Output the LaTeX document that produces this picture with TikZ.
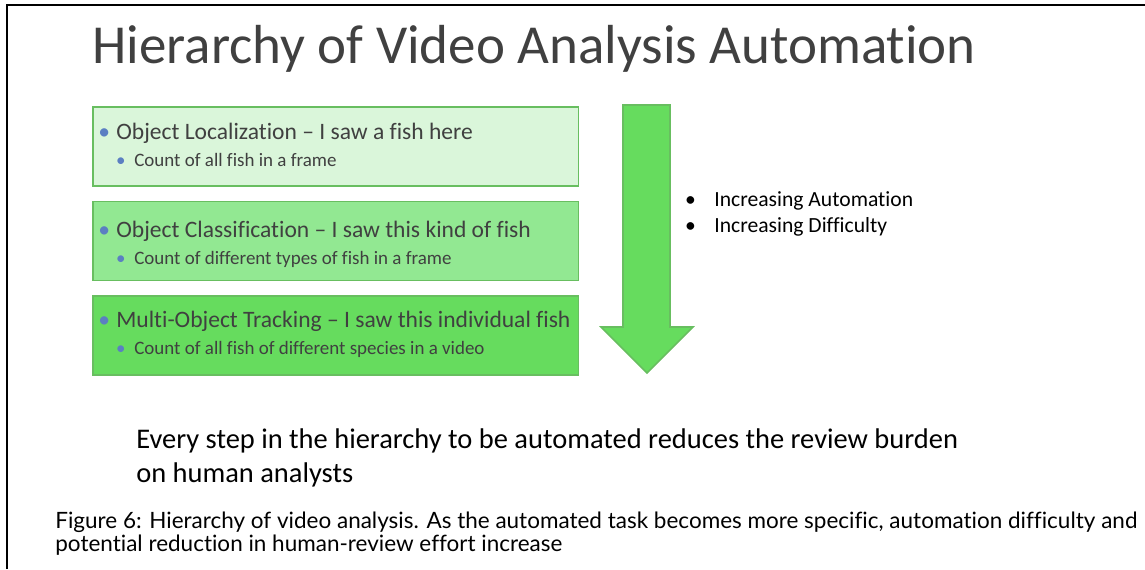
\documentclass[tikz,border=0pt]{standalone}
\usepackage{fontspec}
\setmainfont{Carlito}[Ligatures={TeX,NoCommon}]
\newfontfamily\capfont{Lato}[Ligatures={TeX,NoCommon}]
\usetikzlibrary{positioning}
\definecolor{slidegray}{RGB}{64,64,64}
\definecolor{dotblue}{RGB}{91,127,194}
\definecolor{levelline}{RGB}{104,190,96}
\definecolor{levelone}{RGB}{218,246,218}
\definecolor{leveltwo}{RGB}{146,232,146}
\definecolor{levelthree}{RGB}{102,220,94}

\begin{document}
\begin{tikzpicture}[x=0.02cm,y=-0.02cm]
  % one unit is one pixel of the slide, y grows downwards
  \tikzset{node distance=0.28cm, % gap between the three levels
    level/.style={draw=levelline,line width=0.9pt,minimum width=9.72cm,minimum height=1.58cm,inner sep=0,anchor=north west},
    main/.style={anchor=base west,inner sep=0,text=slidegray,font=\fontsize{13.4}{16}\selectfont},
    sub/.style={anchor=base west,inner sep=0,text=slidegray,font=\fontsize{10.8}{13}\selectfont},
    side/.style={anchor=base west,inner sep=0,font=\fontsize{12.3}{14}\selectfont},
  }
  \useasboundingbox (0,0) rectangle (1145,569);
  % frame of the slide
  \draw[line width=1.7pt] (7,569) -- (7,5) -- (1145,5);
  \node[anchor=base west,inner sep=0,text=slidegray,font=\fontsize{31.3}{36}\selectfont] (title) at (92,63) {Hierarchy of Video Analysis Automation};
  % the three levels, each one below the last
  \node[level,fill=levelone] (loc) at (92,106) {};
  \node[level,fill=leveltwo,below=of loc] (cls) {};
  \node[level,fill=levelthree,below=of cls] (mot) {};
  \node[main] (loctext) at (116,139) {\llap{\color{dotblue}•\hspace{3.5pt}}Object Localization – I saw a fish here};
  \node[sub] (locsub) at (134,166) {\llap{\color{dotblue}•\hspace{5pt}}Count of all fish in a frame};
  \node[main] (clstext) at (116,237) {\llap{\color{dotblue}•\hspace{3.5pt}}Object Classification – I saw this kind of fish};
  \node[sub] (clssub) at (134,264) {\llap{\color{dotblue}•\hspace{5pt}}Count of different types of fish in a frame};
  \node[main] (mottext) at (116,327) {\llap{\color{dotblue}•\hspace{3.5pt}}Multi-Object Tracking – I saw this individual fish};
  \node[sub] (motsub) at (134,354) {\llap{\color{dotblue}•\hspace{5pt}}Count of all fish of different species in a video};
  % the big arrow
  \draw[draw=levelline,line width=0.9pt,fill=levelthree] (623,105) -- (670,105) -- (670,327) -- (693,327) -- (647,373) -- (601,327) -- (623,327) -- cycle;
  \node[side] (auto) at (714,206) {\llap{•\hspace{10.5pt}}Increasing Automation};
  \node[side] (diff) at (714,232) {\llap{•\hspace{10.5pt}}Increasing Difficulty};
  % base of a two line node is the last line
  \node[anchor=base west,inner sep=0,align=left,font=\fontsize{16.2}{19.3}\selectfont] (burden) at (136,482) {Every step in the hierarchy to be automated reduces the review burden\\on human analysts};
  \node[anchor=base west,inner sep=0,align=left,font=\capfont\fontsize{12.8}{13}\selectfont] (caption) at (55,551) {Figure 6: Hierarchy of video analysis. As the automated task becomes more specific, automation difficulty and\\potential reduction in human-review effort increase};
\end{tikzpicture}
\end{document}
